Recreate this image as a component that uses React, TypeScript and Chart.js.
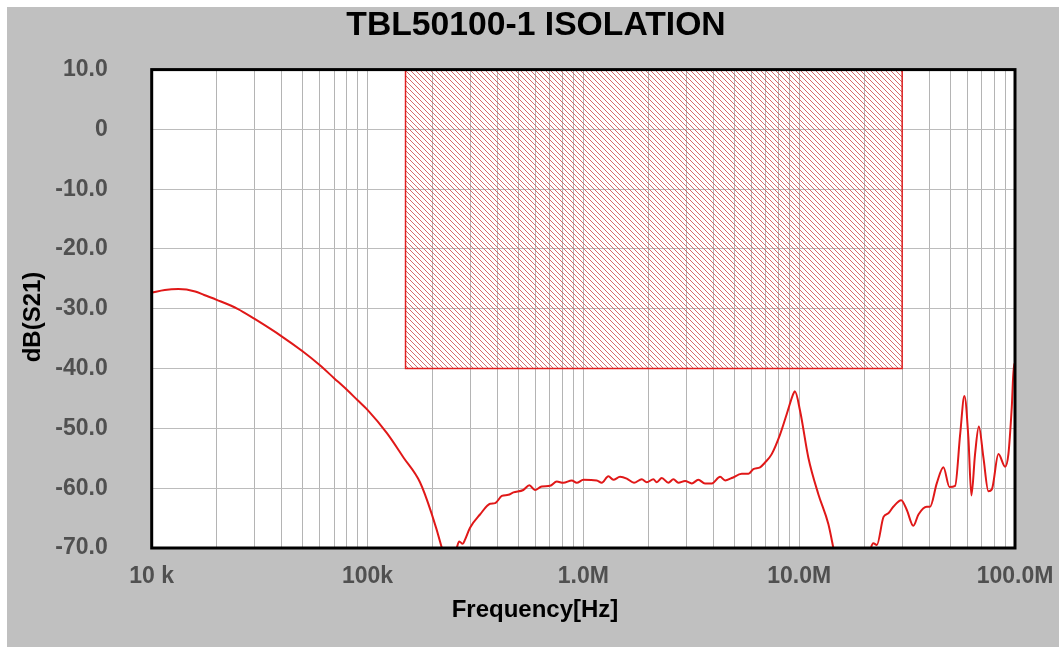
import React, { useEffect, useRef } from 'react';
import { Chart, registerables } from 'chart.js';

Chart.register(...registerables);

// ---------- text ----------
const chartTitle = 'TBL50100-1 ISOLATION';
const xAxisTitle = 'Frequency[Hz]';
const yAxisTitle = 'dB(S21)';

// ---------- axes ----------
const xMin = 1e4;
const xMax = 1e8;
const xDecades = [1e4, 1e5, 1e6, 1e7, 1e8];
const xTickLabels = ['10 k', '100k', '1.0M', '10.0M', '100.0M'];
const xMinorSteps = [1, 2, 3, 4, 5, 6, 7, 8, 9];
const yMin = -70;
const yMax = 10;
const yTicks = [10, 0, -10, -20, -30, -40, -50, -60, -70];
const yTickLabels = ['10.0', '0', '-10.0', '-20.0', '-30.0', '-40.0', '-50.0', '-60.0', '-70.0'];

// ---------- measured isolation S21 ----------
const freqHz = [
  10000, 11500, 13300, 15900, 17500, 20000, 25000, 30000, 40000, 50000, 60000, 70000, 80000, 90000,
  100000, 123000, 147000, 175000, 198000, 221000, 235000,
  245000, 259000, 266000, 276000, 283000, 298500, 332000, 370000, 390000, 419000, 449000,
  474000, 527000, 562000, 597000, 641000, 701000, 753000, 808000, 884000, 932000,
  1000000, 1154000, 1217000, 1306000, 1377000, 1479000, 1589000, 1717000, 1865000, 1967000,
  2111000, 2188000, 2309000, 2477000, 2613000, 2756000, 2960000, 3180000, 3410000, 3660000,
  3940000, 4300000, 4540000, 4870000, 5420000, 5820000, 6130000, 6590000, 6950000, 7460000,
  8160000, 8760000, 9400000, 9550000, 10100000, 11030000, 12270000, 13650000, 14400000, 15500000,
  20000000, 21500000, 22070000, 22900000, 24600000, 25900000, 27300000, 29700000, 31500000,
  33800000, 35700000, 39000000, 40400000, 43400000, 46600000, 49700000, 52800000, 55700000,
  58300000, 60800000, 62800000, 65300000, 68000000, 71400000, 75300000, 78100000, 83800000,
  90000000, 93200000, 96600000, 99000000, 100000000,
];
const s21Db = [
  -27.3, -26.85, -26.7, -27.1, -27.7, -28.5, -30.0, -31.7, -34.6, -37.1, -39.4, -41.6, -43.5, -45.3,
  -46.9, -50.8, -54.9, -59.0, -64.2, -70.0, -74.0,
  -73.0, -70.0, -68.9, -69.3, -68.6, -66.6, -64.4, -62.6, -62.5, -61.3, -61.1,
  -60.7, -60.3, -59.5, -60.3, -59.7, -59.6, -58.9, -59.1, -58.7, -59.1,
  -58.6, -58.7, -59.1, -58.0, -58.6, -58.1, -58.4, -59.1, -58.5, -59.0,
  -58.5, -59.0, -58.3, -59.1, -58.5, -59.1, -58.8, -59.2, -58.6, -59.2,
  -59.2, -58.1, -58.7, -58.3, -57.6, -57.6, -56.8, -56.5, -55.7, -54.3,
  -51.0, -47.6, -44.2, -43.8, -47.1, -54.9, -61.0, -66.0, -70.0, -76.0,
  -76.0, -70.0, -69.2, -69.5, -64.8, -64.2, -63.1, -62.0, -63.6,
  -66.3, -64.4, -63.1, -63.1, -59.2, -56.5, -59.8, -59.6, -51.0,
  -44.6, -51.5, -61.2, -54.3, -49.7, -54.9, -60.5, -60.2, -54.3,
  -56.4, -54.3, -46.5, -39.2, -39.6,
];

// ---------- hatched limit region ----------
const maskFreqHz = [150000, 30000000];
const maskLimitDb = -40;
const maskTopDb = 10;

const FONT = "'Liberation Sans', Arial, Helvetica, sans-serif";

function makeHatch(): CanvasPattern | string {
  const s = 5;
  const c = document.createElement('canvas');
  c.width = s;
  c.height = s;
  const g = c.getContext('2d');
  if (!g) return 'rgba(220,60,60,0.3)';
  g.strokeStyle = 'rgba(205,70,70,0.8)';
  g.lineWidth = 1;
  g.beginPath();
  g.moveTo(0, 0);
  g.lineTo(s, s);
  g.moveTo(-1, s - 1);
  g.lineTo(1, s + 1);
  g.moveTo(s - 1, -1);
  g.lineTo(s + 1, 1);
  g.stroke();
  const p = g.createPattern(c, 'repeat');
  return p || 'rgba(220,60,60,0.3)';
}

const decorPlugin = {
  id: 'decor',
  beforeDraw(chart: any) {
    const { ctx, chartArea: a } = chart;
    ctx.save();
    ctx.fillStyle = '#ffffff';
    ctx.fillRect(a.left, a.top, a.right - a.left, a.bottom - a.top);
    ctx.restore();
  },
  afterDraw(chart: any) {
    const { ctx, chartArea: a } = chart;
    ctx.save();
    ctx.strokeStyle = '#000000';
    ctx.lineWidth = 3;
    ctx.strokeRect(a.left, a.top, a.right - a.left, a.bottom - a.top);

    ctx.fillStyle = '#000000';
    ctx.textAlign = 'center';
    ctx.textBaseline = 'middle';
    ctx.font = `bold 33.7px ${FONT}`;
    ctx.fillText(chartTitle, 529, 18.5);

    ctx.font = `bold 24px ${FONT}`;
    ctx.fillText(xAxisTitle, 528, 603);

    ctx.translate(26, 310);
    ctx.rotate(-Math.PI / 2);
    ctx.fillText(yAxisTitle, 0, 0);
    ctx.restore();
  },
};

export default function App() {
  const ref = useRef<HTMLCanvasElement | null>(null);

  useEffect(() => {
    if (!ref.current) return;
    const curve = freqHz.map((x, i) => ({ x, y: s21Db[i] }));
    const maskBorder = [
      { x: maskFreqHz[0], y: maskTopDb },
      { x: maskFreqHz[0], y: maskLimitDb },
      { x: maskFreqHz[1], y: maskLimitDb },
      { x: maskFreqHz[1], y: maskTopDb },
    ];
    const maskFill = [
      { x: maskFreqHz[0], y: maskLimitDb },
      { x: maskFreqHz[1], y: maskLimitDb },
    ];
    const gridFreqs: number[] = [];
    xDecades.forEach((d) => {
      xMinorSteps.forEach((m) => {
        const v = d * m;
        if (v <= xMax) gridFreqs.push(v);
      });
    });

    const tickFont = { family: FONT, size: 23, weight: 'bold' as const };

    const chart = new Chart(ref.current, {
      type: 'line',
      data: {
        datasets: [
          {
            label: 'S21',
            data: curve,
            borderColor: '#e01818',
            borderWidth: 2,
            pointRadius: 0,
            fill: false,
            cubicInterpolationMode: 'monotone',
            clip: 0,
          },
          {
            label: 'limit border',
            data: maskBorder,
            borderColor: '#e02020',
            borderWidth: 1.5,
            pointRadius: 0,
            fill: false,
            tension: 0,
            clip: 0,
          },
          {
            label: 'limit region',
            data: maskFill,
            borderWidth: 0,
            borderColor: 'rgba(0,0,0,0)',
            backgroundColor: makeHatch() as any,
            pointRadius: 0,
            fill: 'end',
            tension: 0,
            clip: 0,
          },
        ],
      },
      options: {
        responsive: false,
        devicePixelRatio: 1,
        animation: false,
        layout: { padding: { top: 62.6, right: 44, bottom: 0, left: 0 } },
        plugins: {
          legend: { display: false },
          tooltip: { enabled: false },
          title: { display: false },
        },
        scales: {
          x: {
            type: 'logarithmic',
            min: xMin,
            max: xMax,
            afterBuildTicks: (scale: any) => {
              scale.ticks = gridFreqs.map((value) => ({ value }));
            },
            afterFit: (scale: any) => {
              scale.height = 99;
            },
            ticks: {
              autoSkip: false,
              maxRotation: 0,
              minRotation: 0,
              padding: 4,
              color: '#505050',
              font: tickFont,
              callback: (value: any) => {
                const i = xDecades.indexOf(Number(value));
                return i >= 0 ? xTickLabels[i] : '';
              },
            },
            grid: {
              color: '#b4b4b4',
              lineWidth: 1,
              drawTicks: true,
              tickLength: 11,
              tickColor: 'rgba(0,0,0,0)',
            },
            border: { display: false },
          },
          y: {
            type: 'linear',
            min: yMin,
            max: yMax,
            afterBuildTicks: (scale: any) => {
              scale.ticks = yTicks.map((value) => ({ value }));
            },
            afterFit: (scale: any) => {
              scale.width = 144.7;
            },
            ticks: {
              padding: 44,
              color: '#505050',
              font: tickFont,
              callback: (value: any) => {
                const i = yTicks.indexOf(Number(value));
                return i >= 0 ? yTickLabels[i] : '';
              },
            },
            grid: { color: '#bcbcbc', lineWidth: 1, drawTicks: false },
            border: { display: false },
          },
        },
      } as any,
      plugins: [decorPlugin],
    });
    return () => chart.destroy();
  }, []);

  return (
    <div
      style={{
        position: 'fixed',
        left: 7,
        top: 7,
        width: 1052,
        height: 640,
        background: '#c0c0c0',
      }}
    >
      <canvas ref={ref} width={1052} height={640} style={{ display: 'block' }} />
    </div>
  );
}
